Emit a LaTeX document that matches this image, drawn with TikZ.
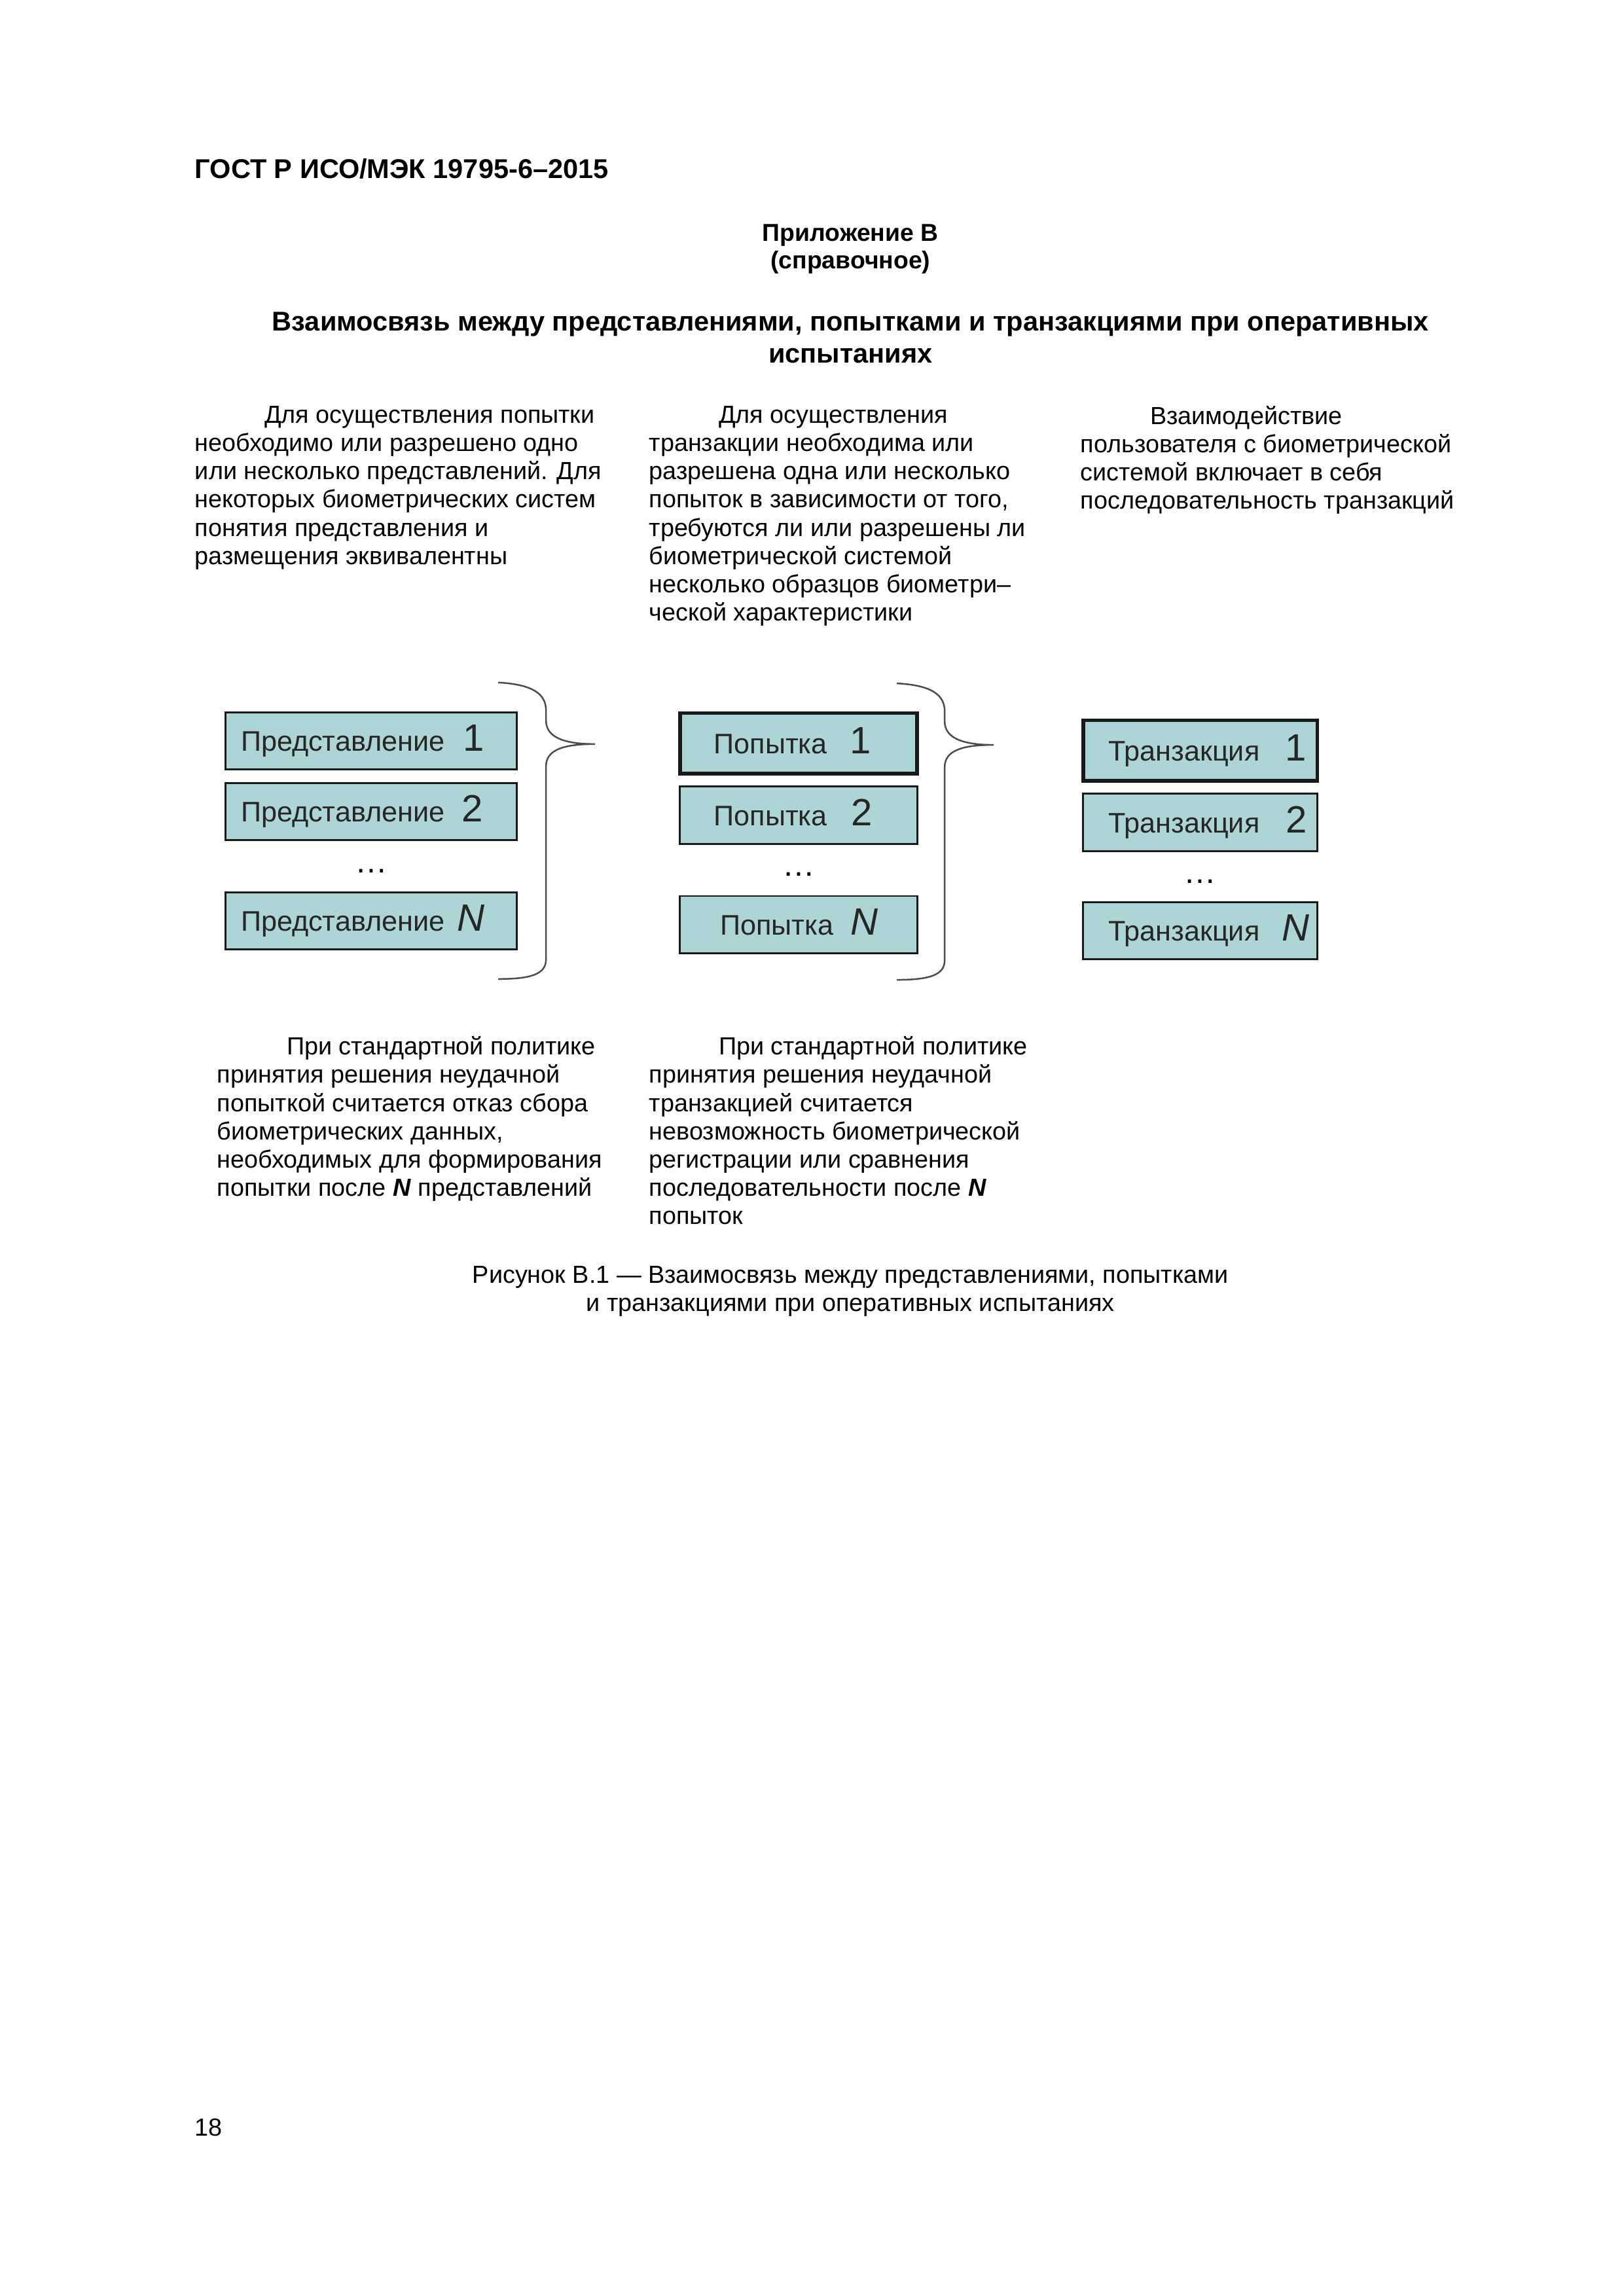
\documentclass[tikz,border=0pt]{standalone}
\usepackage{fontspec}
\setmainfont{Liberation Sans}
\usepackage{xcolor}
\usepackage{tikz}
\usetikzlibrary{positioning,calc}

\definecolor{boxfill}{RGB}{173,213,214}
\newcommand{\boxnum}[1]{{\fontsize{14}{16}\selectfont #1}}

\begin{document}
\begin{tikzpicture}[
    boxbase/.style={rectangle,draw=black!90,fill=boxfill,line width=0.7pt,minimum height=0.74cm,
      inner xsep=0pt,align=left,text height=10pt,text depth=2.5pt,font=\fontsize{10.4}{12}\selectfont,text=black!85},
    prbox/.style={boxbase,text width=3.77cm},
    popbox/.style={boxbase,text width=3.07cm},
    trbox/.style={boxbase,text width=3.03cm},
    firstbox/.style={line width=1.4pt,minimum height=0.78cm},
    dotsnode/.style={font=\fontsize{12}{14}\selectfont,inner sep=0pt,yshift=-0.06cm},
    bodytext/.style={font=\fontsize{9.1}{10.4}\selectfont,align=left,anchor=north west,inner sep=0pt,
      execute at begin node={\rule{0pt}{9pt}}},
    headtext/.style={align=center,anchor=north,inner sep=0pt,execute at begin node={\rule{0pt}{9pt}}},
    bracestyle/.style={draw=black!70,line width=0.6pt},
    curlybrace/.pic={
      \draw[bracestyle] (0,0) .. controls (0.457,-0.025) and (0.618,-0.152) .. (0.618,-0.364)
        -- (0.618,-0.491) .. controls (0.618,-0.703) and (0.838,-0.796) .. (1.253,-0.796)
        .. controls (0.838,-0.796) and (0.618,-0.872) .. (0.618,-1.084)
        -- (0.618,-3.581) .. controls (0.618,-3.776) and (0.415,-3.835) .. (0,-3.835);
    }
    ]

    \path[fill=white,use as bounding box] (0,0) rectangle (21,-29.7);

    % page head
    \node[anchor=base west,inner sep=0pt,font=\bfseries\fontsize{10}{12}\selectfont] (gost) at (2.515,-2.311)
      {ГОСТ Р ИСО/МЭК 19795-6–2015};
    \node[headtext,font=\bfseries\fontsize{9}{10.2}\selectfont] (annex) at (11.0,-2.893)
      {Приложение В\\(справочное)};
    \node[headtext,font=\bfseries\fontsize{10}{11.8}\selectfont] (title) at (11.0,-4.034)
      {Взаимосвязь между представлениями, попытками и транзакциями при оперативных\\испытаниях};

    % upper notes
    \node[bodytext] (noteA) at (2.515,-5.245) {\hspace*{0.9cm}Для осуществления попытки\\
      необходимо или разрешено одно\\
      или несколько представлений. Для\\
      некоторых биометрических систем\\
      понятия представления и\\
      размещения эквивалентны};
    \node[bodytext] (noteB) at (8.390,-5.245) {\hspace*{0.9cm}Для осуществления\\
      транзакции необходима или\\
      разрешена одна или несколько\\
      попыток в зависимости от того,\\
      требуются ли или разрешены ли\\
      биометрической системой\\
      несколько образцов биометри–\\
      ческой характеристики};
    \node[bodytext] (noteC) at (13.970,-5.245) {\hspace*{0.9cm}Взаимодействие\\
      пользователя с биометрической\\
      системой включает в себя\\
      последовательность транзакций};

    % presentations
    \node[prbox] (pr1) at (4.801,-9.584) {\hspace*{0.2cm}Представление\hspace{0.24cm}\boxnum{1}};
    \node[prbox,below=0.15cm of pr1] (pr2) {\hspace*{0.2cm}Представление\hspace{0.22cm}\boxnum{2}};
    \node[prbox,below=0.65cm of pr2] (prN) {\hspace*{0.2cm}Представление\hspace{0.16cm}\boxnum{\textit{N}}};
    \node[dotsnode] (prdots) at ($(pr2.south)!0.5!(prN.north)$) {…};

    % attempts
    \node[popbox,firstbox] (pop1) at (10.329,-9.614) {\hspace*{0.44cm}Попытка\hspace{0.29cm}\boxnum{1}};
    \node[popbox,below=0.135cm of pop1] (pop2) {\hspace*{0.44cm}Попытка\hspace{0.31cm}\boxnum{2}};
    \node[popbox,below=0.65cm of pop2] (popN) {\hspace*{0.52cm}Попытка\hspace{0.22cm}\boxnum{\textit{N}}};
    \node[dotsnode] (popdots) at ($(pop2.south)!0.5!(popN.north)$) {…};

    % transactions
    \node[trbox,firstbox] (tr1) at (15.524,-9.707) {\hspace*{0.33cm}Транзакция\hspace{0.33cm}\boxnum{1}};
    \node[trbox,below=0.135cm of tr1] (tr2) {\hspace*{0.33cm}Транзакция\hspace{0.34cm}\boxnum{2}};
    \node[trbox,below=0.635cm of tr2] (trN) {\hspace*{0.33cm}Транзакция\hspace{0.29cm}\boxnum{\textit{N}}};
    \node[dotsnode] (trdots) at ($(tr2.south)!0.5!(trN.north)$) {…};

    % braces
    \coordinate (brA) at ($(pr1.north east)+(-0.254,0.373)$);
    \coordinate (brB) at ($(pop1.north east)+(-0.288,0.36)$);
    \pic at (brA) {curlybrace};
    \pic at (brB) {curlybrace};

    % lower notes
    \node[bodytext] (noteD) at (2.802,-13.401) {\hspace*{0.9cm}При стандартной политике\\
      принятия решения неудачной\\
      попыткой считается отказ сбора\\
      биометрических данных,\\
      необходимых для формирования\\
      попытки после \textbf{\textit{N}} представлений};
    \node[bodytext] (noteE) at (8.390,-13.401) {\hspace*{0.9cm}При стандартной политике\\
      принятия решения неудачной\\
      транзакцией считается\\
      невозможность биометрической\\
      регистрации или сравнения\\
      последовательности после \textbf{\textit{N}}\\
      попыток};

    % caption and page number
    \node[headtext,font=\fontsize{9.1}{10.5}\selectfont] (caption) at (11.0,-16.37)
      {Рисунок В.1 — Взаимосвязь между представлениями, попытками\\и транзакциями при оперативных испытаниях};
    \node[anchor=base west,inner sep=0pt,font=\fontsize{9.1}{10.4}\selectfont] (pageno) at (2.515,-27.63) {18};

  \end{tikzpicture}
\end{document}
